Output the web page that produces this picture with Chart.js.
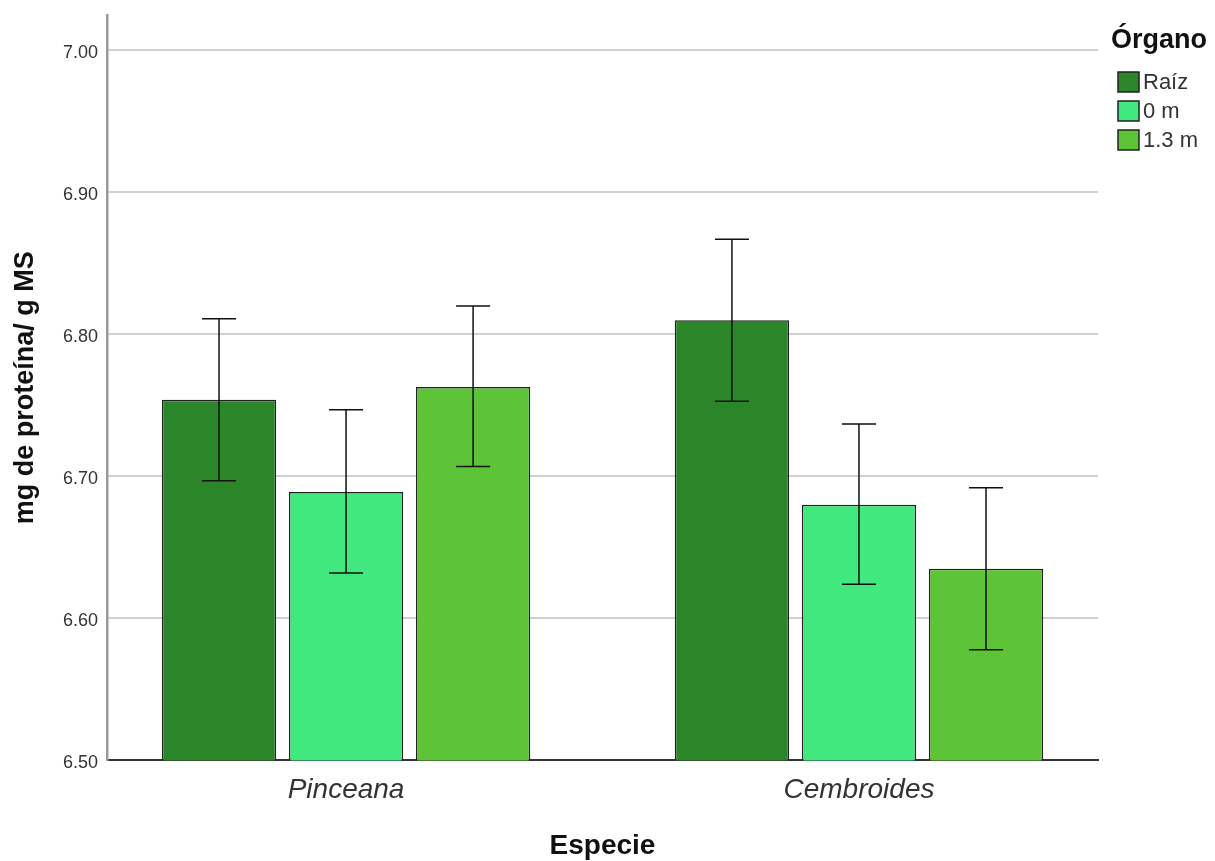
<!DOCTYPE html>
<html>
<head>
<meta charset="utf-8">
<script src="https://cdn.jsdelivr.net/npm/chart.js@4.4.1/dist/chart.umd.min.js"></script>
<style>
  body { margin: 0; background: #fff; }
  #wrap { width: 1215px; height: 861px; }
</style>
</head>
<body>
<div id="wrap"><canvas id="myChart" width="1215" height="861"></canvas></div>
<script>
// data
let especies = ['Pinceana', 'Cembroides'];
let organos = ['Raíz', '0 m', '1.3 m'];
let raiz = [6.754, 6.810];
let cero = [6.689, 6.680];
let uno3 = [6.763, 6.635];
// error bar limits (lower / upper)
let raizLo = [6.697, 6.753];
let raizHi = [6.811, 6.867];
let ceroLo = [6.632, 6.624];
let ceroHi = [6.747, 6.737];
let uno3Lo = [6.707, 6.578];
let uno3Hi = [6.820, 6.692];
let yTicks = [6.5, 6.6, 6.7, 6.8, 6.9, 7.0];

let colores = ['#2a8629', '#41e87e', '#5ec437'];
let fuente = '"Liberation Sans", Arial, sans-serif';

// groups sit a bit further apart than chart.js puts them
let separarGrupos = {
    id: 'separarGrupos',
    afterLayout(chart) {
        let x = chart.scales.x;
        x._startValue = -0.466;
        x._valueRange = 1.932;
    }
};

let errorBars = {
    id: 'errorBars',
    afterDatasetsDraw(chart) {
        let ctx = chart.ctx;
        let y = chart.scales.y;
        ctx.save();
        ctx.strokeStyle = '#111';
        ctx.lineWidth = 1.5;
        chart.data.datasets.forEach((ds, i) => {
            let meta = chart.getDatasetMeta(i);
            meta.data.forEach((bar, j) => {
                let x = bar.x;
                let lo = y.getPixelForValue(ds.errLo[j]);
                let hi = y.getPixelForValue(ds.errHi[j]);
                ctx.beginPath();
                ctx.moveTo(x, lo); ctx.lineTo(x, hi);
                ctx.moveTo(x - 17, lo); ctx.lineTo(x + 17, lo);
                ctx.moveTo(x - 17, hi); ctx.lineTo(x + 17, hi);
                ctx.stroke();
            });
        });
        ctx.restore();
    }
};

let leyenda = {
    id: 'leyenda',
    afterDraw(chart) {
        let ctx = chart.ctx;
        ctx.save();
        ctx.fillStyle = '#111';
        ctx.font = 'bold 27px ' + fuente;
        ctx.textBaseline = 'alphabetic';
        ctx.fillText('Órgano', 1111, 48);
        ctx.font = '22px ' + fuente;
        chart.data.datasets.forEach((ds, i) => {
            let top = 72 + i * 29;
            ctx.fillStyle = ds.backgroundColor;
            ctx.fillRect(1118, top, 21, 20);
            ctx.strokeStyle = '#222';
            ctx.lineWidth = 1.5;
            ctx.strokeRect(1118, top, 21, 20);
            ctx.fillStyle = '#333';
            ctx.textBaseline = 'middle';
            ctx.fillText(ds.label, 1143, top + 11);
        });
        ctx.restore();
    }
};

let myChart = document.getElementById('myChart').getContext('2d');
let proteinaChart = new Chart(myChart, {
    type: 'bar',
    data: {
        labels: especies,
        datasets: [
            { label: organos[0], data: raiz, errLo: raizLo, errHi: raizHi, backgroundColor: colores[0] },
            { label: organos[1], data: cero, errLo: ceroLo, errHi: ceroHi, backgroundColor: colores[1] },
            { label: organos[2], data: uno3, errLo: uno3Lo, errHi: uno3Hi, backgroundColor: colores[2] }
        ].map(d => Object.assign(d, { borderColor: '#222', borderWidth: 1.5, categoryPercentage: 0.743, barPercentage: 0.9 }))
    },
    options: {
        responsive: false,
        animation: false,
        layout: { padding: { left: 9, right: 117, top: 15, bottom: 0 } },
        plugins: {
            legend: { display: false },
            tooltip: { enabled: false }
        },
        scales: {
            x: {
                grid: { display: false, drawTicks: false },
                border: { color: '#333', width: 2 },
                ticks: {
                    color: '#333',
                    padding: 13,
                    font: { family: fuente, size: 28, style: 'italic' }
                },
                title: {
                    display: true,
                    text: 'Especie',
                    color: '#111',
                    padding: { top: 11, bottom: 0 },
                    font: { family: fuente, size: 28, weight: 'bold', lineHeight: 1.07 }
                }
            },
            y: {
                min: 6.5,
                max: 7.025,
                afterBuildTicks: axis => { axis.ticks = yTicks.map(v => ({ value: v })); },
                afterFit: axis => { axis.paddingTop = 0; axis.paddingBottom = 0; },
                grid: { color: '#d0d0d0', lineWidth: 2, drawTicks: false },
                border: { color: '#999', width: 2.5 },
                ticks: {
                    color: '#333',
                    padding: 9,
                    labelOffset: 3,
                    font: { family: fuente, size: 18 },
                    callback: v => Number(v).toFixed(2)
                },
                title: {
                    display: true,
                    text: 'mg de proteína/ g MS',
                    color: '#111',
                    padding: { top: 0, bottom: 12.6 },
                    font: { family: fuente, size: 27, weight: 'bold' }
                }
            }
        }
    },
    plugins: [separarGrupos, errorBars, leyenda]
});
</script>
</body>
</html>
